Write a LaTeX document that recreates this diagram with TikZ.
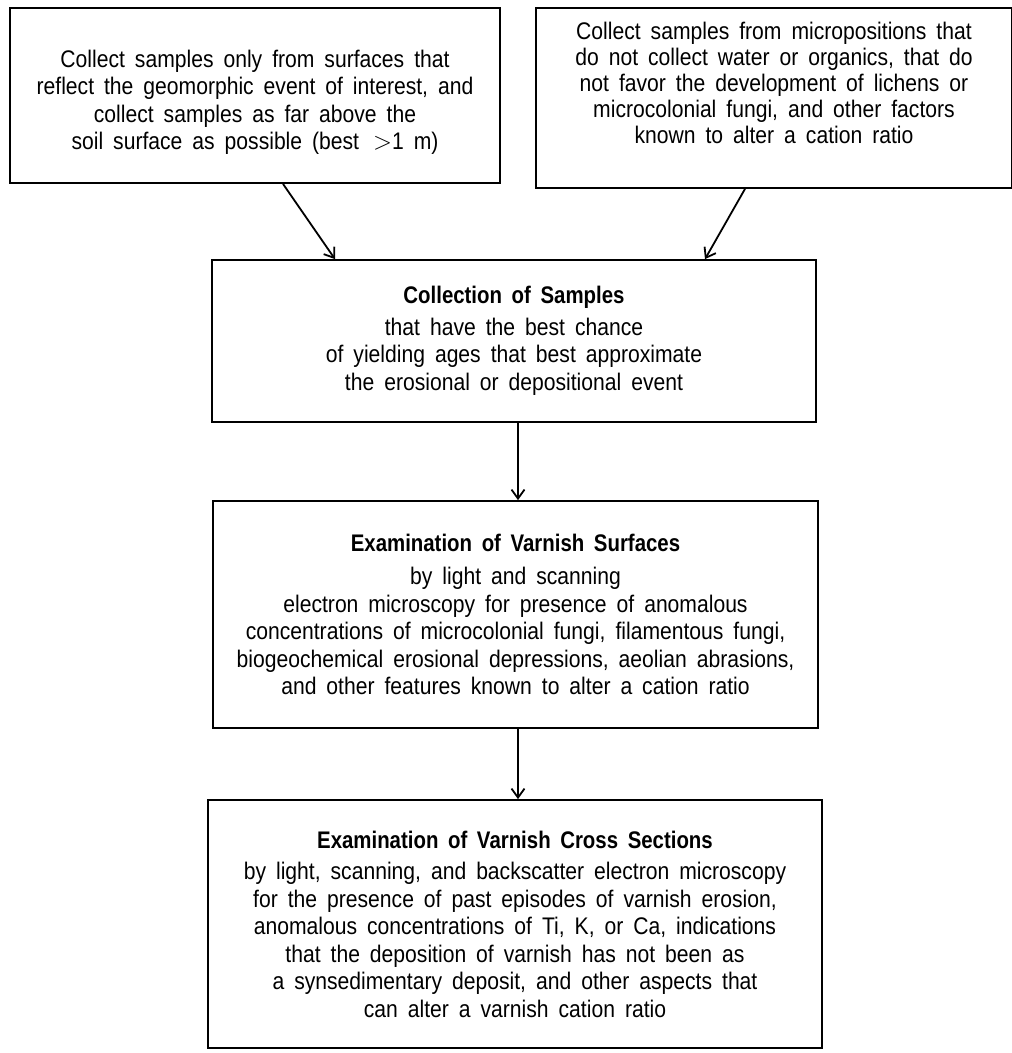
\documentclass[tikz,border=0pt]{standalone}
\usepackage{fontspec}
\setmainfont{Liberation Sans}[FakeStretch=0.88, WordSpace=1.7]
\newfontfamily\titlefont{Liberation Sans}[FakeStretch=0.85, WordSpace=1.7]
\usetikzlibrary{arrows.meta}

\begin{document}
\begin{tikzpicture}[x=1pt, y=-1pt,
    box/.style={draw, line width=1.8pt, align=center, inner sep=0pt,
        font=\fontsize{24}{27.5}\selectfont},
    flow/.style={-{Straight Barb[length=9pt, width=13pt]}, line width=1.8pt}]
    \useasboundingbox (0,0) rectangle (1012,1053);
    % source boxes
    \node[box, minimum width=490, minimum height=175] (surf) at (255,95.5)
        {\rule{0pt}{31pt}Collect samples only from surfaces that\\
         reflect the geomorphic event of interest, and\\
         collect samples as far above the\\
         soil surface as possible (best \,$>$1 m)};
    \node[box, minimum width=476, minimum height=180,
          font=\fontsize{24}{26}\selectfont] (micro) at (774,98)
        {Collect samples from micropositions that\\
         do not collect water or organics, that do\\
         not favor the development of lichens or\\
         microcolonial fungi, and other factors\\
         known to alter a cation ratio\rule[-30pt]{0pt}{0pt}};
    % main chain
    \node[box, minimum width=604, minimum height=162] (collect) at (514,341)
        {{\titlefont\bfseries Collection of Samples}\\[4pt]
         that have the best chance\\
         of yielding ages that best approximate\\
         the erosional or depositional event};
    \node[box, minimum width=605, minimum height=227] (surface) at (515.5,614.5)
        {{\titlefont\bfseries Examination of Varnish Surfaces}\\[6pt]
         by light and scanning\\
         electron microscopy for presence of anomalous\\
         concentrations of microcolonial fungi, filamentous fungi,\\
         biogeochemical erosional depressions, aeolian abrasions,\\
         and other features known to alter a cation ratio};
    \node[box, minimum width=614, minimum height=248] (cross) at (515,924)
        {{\titlefont\bfseries Examination of Varnish Cross Sections}\\[4pt]
         by light, scanning, and backscatter electron microscopy\\
         for the presence of past episodes of varnish erosion,\\
         anomalous concentrations of Ti, K, or Ca, indications\\
         that the deposition of varnish has not been as\\
         a synsedimentary deposit, and other aspects that\\
         can alter a varnish cation ratio};
    % arrows
    \draw[flow] (surf.south -| 283,0) -- (collect.north -| 335,0);
    \draw[flow] (micro.south -| 745,0) -- (collect.north -| 705,0);
    \draw[flow] (collect.south -| 518,0) -- (surface.north -| 518,0);
    \draw[flow] (surface.south -| 518,0) -- (cross.north -| 518,0);
\end{tikzpicture}
\end{document}
